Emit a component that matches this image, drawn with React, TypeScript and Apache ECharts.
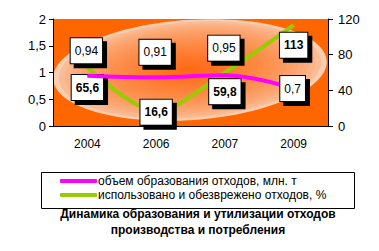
import React, { useEffect, useRef } from "react";
import * as echarts from "echarts";

const years = ["2004", "2006", "2007", "2009"];
const volume = [0.94, 0.91, 0.95, 0.7];
const utilized = [65.6, 16.6, 59.8, 113];
const volumeName = "объем образования отходов, млн. т";
const utilizedName = "использовано и обезврежено отходов, %";
const titleLines = ["Динамика образования и утилизации отходов", "производства и потребления"];
const volumeLabelDy = [-25, -25, -27, 0];
const utilizedLabelDy = [20, 1, 19, 20];

const FONT = "Liberation Sans, Arial, sans-serif";

function mix(a: number[], b: number[], t: number) {
  const c = a.map((v, i) => Math.round(v + (b[i] - v) * t));
  return `rgb(${c[0]},${c[1]},${c[2]})`;
}

function ellipseLayers() {
  const edge = [249, 206, 176];
  const center = [255, 106, 20];
  const n = 24;
  const out: any[] = [];
  for (let i = 0; i < n; i++) {
    const s = 1 - i / n;
    const t = Math.min(1, Math.pow(i / (n - 1), 0.55));
    out.push({
      type: "ellipse",
      z: -9,
      x: 190,
      y: 70,
      rotation: 0.07,
      silent: true,
      shape: { cx: 0, cy: 0, rx: 137 * s, ry: 50 * s },
      style: { fill: mix(edge, center, t) },
    });
  }
  return out;
}

export default function App() {
  const ref = useRef<HTMLDivElement>(null);
  useEffect(() => {
    const chart = echarts.init(ref.current!, null, { renderer: "svg" });
    const labelBase = {
      show: true,
      position: "inside",
      color: "#000",
      fontFamily: FONT,
      fontSize: 12,
      backgroundColor: "#fff",
      borderColor: "#000",
      borderWidth: 1,
      padding: [7, 4, 6, 4],
      shadowColor: "#000",
      shadowOffsetX: 4,
      shadowOffsetY: 4,
      shadowBlur: 0,
    };
    chart.setOption({
      animation: false,
      grid: { left: 53, right: 51, top: 19, bottom: 125 },
      graphic: [
        {
          type: "rect",
          z: -10,
          shape: { x: 53, y: 19, width: 275, height: 107 },
          style: { fill: "#FF6600" },
        },
        ...ellipseLayers(),
        {
          type: "rect",
          shape: { x: 41.5, y: 172.5, width: 313, height: 36 },
          style: { fill: "none", stroke: "#000", lineWidth: 1 },
        },
        {
          type: "text",
          x: 198,
          y: 214,
          style: {
            text: titleLines[0],
            fontFamily: FONT,
            fontSize: 12,
            fontWeight: "bold",
            fill: "#000",
            align: "center",
            verticalAlign: "middle",
          },
        },
        {
          type: "text",
          x: 198,
          y: 230,
          style: {
            text: titleLines[1],
            fontFamily: FONT,
            fontSize: 12,
            fontWeight: "bold",
            fill: "#000",
            align: "center",
            verticalAlign: "middle",
          },
        },
      ],
      legend: {
        orient: "vertical",
        left: 60,
        top: 174,
        itemWidth: 37,
        itemHeight: 4,
        itemGap: 0,
        icon: "roundRect",
        padding: 0,
        textStyle: {
          fontFamily: FONT,
          fontSize: 12,
          color: "#000",
          padding: [0, 0, 0, -4],
          lineHeight: 14,
        },
        data: [volumeName, utilizedName],
      },
      xAxis: {
        type: "category",
        data: years,
        boundaryGap: true,
        axisLine: { lineStyle: { color: "#000", width: 1 } },
        axisTick: { length: 4, lineStyle: { color: "#000" } },
        axisLabel: { fontFamily: FONT, fontSize: 12, color: "#000", margin: 12 },
      },
      yAxis: [
        {
          type: "value",
          min: 0,
          max: 2,
          interval: 0.5,
          axisLine: { show: true, lineStyle: { color: "#000" } },
          axisTick: { show: true, length: 4, lineStyle: { color: "#000" } },
          splitLine: { show: false },
          axisLabel: {
            fontFamily: FONT,
            fontSize: 13,
            color: "#000",
            margin: 7,
            formatter: (v: number) => String(v).replace(".", ","),
          },
        },
        {
          type: "value",
          min: 0,
          max: 120,
          interval: 40,
          position: "right",
          axisLine: { show: true, lineStyle: { color: "#000" } },
          axisTick: { show: true, length: 5, lineStyle: { color: "#000" } },
          splitLine: { show: false },
          axisLabel: { fontFamily: FONT, fontSize: 13, color: "#000", margin: 10 },
        },
      ],
      series: [
        {
          name: volumeName,
          type: "line",
          yAxisIndex: 0,
          smooth: 0.4,
          symbol: "circle",
          symbolSize: 1,
          itemStyle: { color: "#FF00FF" },
          lineStyle: { color: "#FF00FF", width: 4 },
          z: 3,
          data: volume.map((v, i) => ({
            value: v,
            label: { offset: [-1, volumeLabelDy[i]] },
          })),
          label: {
            ...labelBase,
            formatter: (p: any) => String(p.value).replace(".", ","),
          },
        },
        {
          name: utilizedName,
          type: "line",
          yAxisIndex: 1,
          smooth: 0.3,
          symbol: "circle",
          symbolSize: 1,
          itemStyle: { color: "#99CC00" },
          lineStyle: { color: "#99CC00", width: 4 },
          z: 2,
          data: utilized.map((v, i) => ({
            value: v,
            label: { offset: [0, utilizedLabelDy[i]] },
          })),
          label: {
            ...labelBase,
            fontWeight: "bold",
            formatter: (p: any) => String(p.value).replace(".", ","),
          },
        },
      ],
    });
    return () => chart.dispose();
  }, []);
  return <div ref={ref} style={{ width: 379, height: 251, margin: -8 }} />;
}
